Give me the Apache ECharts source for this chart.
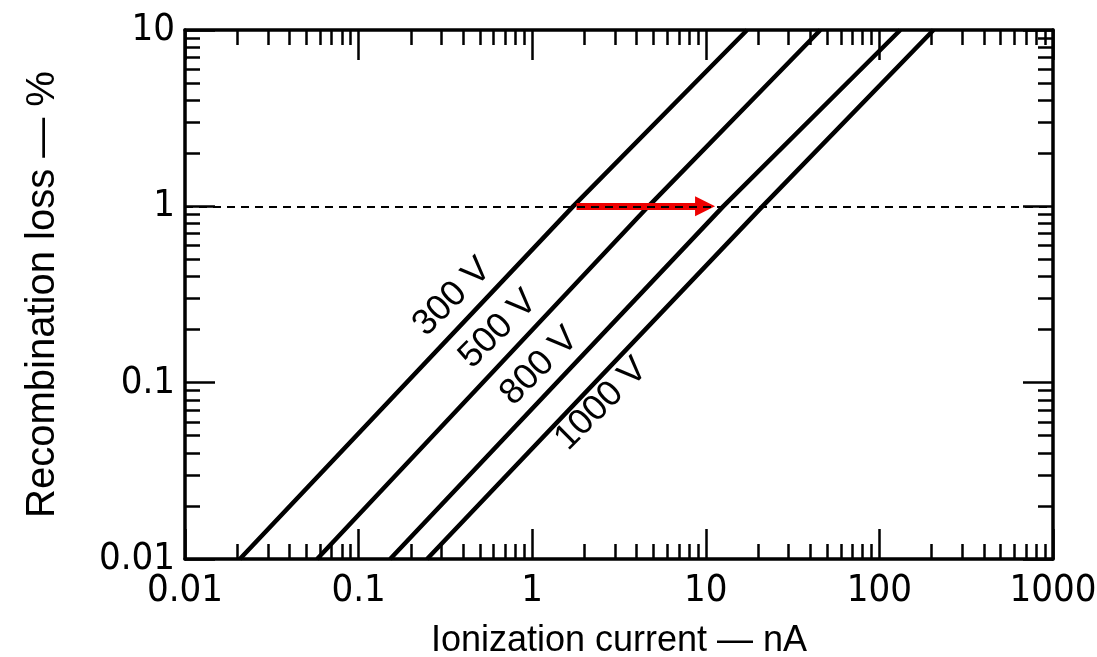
<!DOCTYPE html>
<html>
<head>
<meta charset="utf-8">
<script src="https://cdn.jsdelivr.net/npm/echarts@6/dist/echarts.min.js"></script>
<style>
html,body{margin:0;padding:0;background:#fff;}
#chart{width:1097px;height:657px;}
</style>
</head>
<body>
<div id="chart"></div>
<script>
// ---- Data ----
const seriesNames = ['300 V', '500 V', '800 V', '1000 V'];
// [ionization current nA, recombination loss %]
const line300 = [[0.0207, 0.01], [1.72, 1], [17.3, 10]];
const line500 = [[0.0577, 0.01], [4.67, 1], [45.7, 10]];
const line800 = [[0.152, 0.01], [12.6, 1], [132, 10]];
const line1000 = [[0.248, 0.01], [21.2, 1], [205, 10]];
const labelPositions = [[0.346, 0.306], [0.637, 0.201], [1.10, 0.124], [2.50, 0.0756]];
const referenceLevel = 1;
const arrowFrom = [1.8, 1];
const arrowTo = [9.9, 1];
const xTickLabels = ['0.01', '0.1', '1', '10', '100', '1000'];
const yTickLabels = ['0.01', '0.1', '1', '10'];
const xRange = [0.01, 1000];
const yRange = [0.01, 10];

// ---- minor tick positions (2..9 within each decade) ----
function minorTicks(lo, hi) {
  const out = [];
  for (let d = lo; d < hi * 0.999; d *= 10) {
    for (let k = 2; k <= 9; k++) out.push(+(d * k).toPrecision(3));
  }
  return out;
}
const xMinor = minorTicks(xRange[0], xRange[1]);
const yMinor = minorTicks(yRange[0], yRange[1]);

const TICKFONT = '"Liberation Sans Narrow", "DejaVu Sans Condensed", "Liberation Sans", sans-serif';
const FONT = '"Liberation Sans", "DejaVu Sans", sans-serif';
const findLabel = (list, v) => list.find(t => Math.abs(Math.log10(+t) - Math.log10(v)) < 1e-6) || '';

function axisBase(pos, range, opts) {
  return Object.assign({
    type: 'log', logBase: 10, position: pos, min: range[0], max: range[1],
    axisLine: { show: false },
    splitLine: { show: false },
    axisLabel: { show: false },
    axisTick: { show: false }
  }, opts);
}
const majorTick = { show: true, inside: true, length: 30, lineStyle: { color: '#000', width: 2.5 } };
const minorTick = vals => ({ show: true, inside: true, length: 15, customValues: vals, lineStyle: { color: '#000', width: 2.5 } });
const frameLine = { show: true, onZero: false, lineStyle: { color: '#000', width: 3.5 } };

const lines = [line300, line500, line800, line1000];

const option = {
  backgroundColor: '#ffffff',
  animation: false,
  grid: { left: 185, right: 44, top: 30, bottom: 98, outerBoundsMode: 'none' },
  xAxis: [
    axisBase('bottom', xRange, {
      axisLine: frameLine,
      axisTick: majorTick,
      axisLabel: { show: true, color: '#000', fontFamily: TICKFONT, fontSize: 38, margin: 13,
        formatter: v => findLabel(xTickLabels, v) },
      name: 'Ionization current — nA', nameLocation: 'middle', nameGap: 64,
      nameTextStyle: { color: '#000', fontFamily: FONT, fontSize: 36 }
    }),
    axisBase('bottom', xRange, { axisTick: minorTick(xMinor) }),
    axisBase('top', xRange, { axisLine: frameLine, axisTick: majorTick }),
    axisBase('top', xRange, { axisTick: minorTick(xMinor) })
  ],
  yAxis: [
    axisBase('left', yRange, {
      axisLine: frameLine,
      axisTick: majorTick,
      axisLabel: { show: true, color: '#000', fontFamily: TICKFONT, fontSize: 38, margin: 10,
        formatter: v => findLabel(yTickLabels, v) },
      name: 'Recombination loss — %', nameLocation: 'middle', nameGap: 122,
      nameTextStyle: { color: '#000', fontFamily: FONT, fontSize: 40 }
    }),
    axisBase('left', yRange, { axisTick: minorTick(yMinor) }),
    axisBase('right', yRange, { axisLine: frameLine, axisTick: majorTick }),
    axisBase('right', yRange, { axisTick: minorTick(yMinor) })
  ],
  series: [
    ...lines.map((d, i) => ({
      type: 'line', name: seriesNames[i], data: d, showSymbol: false, symbol: 'none',
      lineStyle: { color: '#000', width: 4.5 }, z: 3
    })),
    {
      type: 'line', name: 'arrow', data: [], z: 4,
      markLine: {
        silent: true, symbol: ['none', 'triangle'], symbolSize: [20, 20], label: { show: false },
        lineStyle: { color: '#ee0000', width: 7, type: 'solid' },
        itemStyle: { color: '#ee0000' },
        data: [[{ coord: arrowFrom }, { coord: arrowTo }]]
      }
    },
    {
      type: 'line', name: 'ref', data: [], z: 5,
      markLine: {
        silent: true, symbol: ['none', 'none'], label: { show: false },
        lineStyle: { color: '#000', width: 2, type: [8, 6] },
        data: [{ yAxis: referenceLevel }]
      }
    },
    {
      type: 'scatter', name: 'labels', symbolSize: 0, z: 6,
      itemStyle: { opacity: 1, color: 'transparent' },
      data: labelPositions.map((p, i) => ({ value: p, name: seriesNames[i] })),
      label: {
        show: true, position: 'inside', rotate: 45, color: '#000', opacity: 1,
        fontFamily: FONT, fontSize: 36, formatter: p => p.name
      }
    }
  ]
};

const chart = echarts.init(document.getElementById('chart'), null, { renderer: 'canvas' });
chart.setOption(option);
</script>
</body>
</html>
